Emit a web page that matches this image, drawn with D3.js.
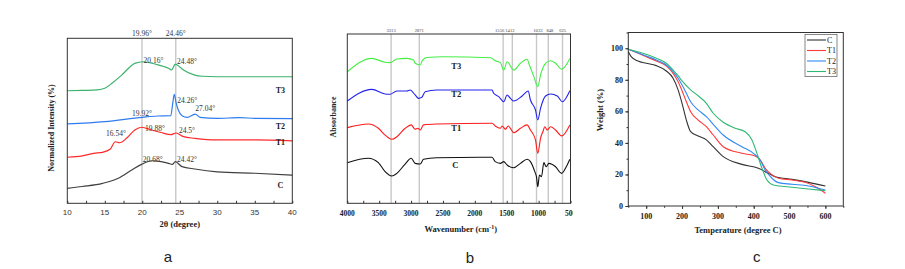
<!DOCTYPE html>
<html>
<head>
<meta charset="utf-8">
<script src="https://cdn.jsdelivr.net/npm/d3@7"></script>
<style>
  body { margin: 0; background: #fff; }
  svg { display: block; }
</style>
</head>
<body>
<svg width="905" height="269"></svg>
<script>
// ---- panel a : XRD ----
const xrdTicks = [10, 15, 20, 25, 30, 35, 40];
const xrdRefLines = [[19.96, "19.96°"], [24.46, "24.46°"]];
const xrdC = [[10, 9.1], [12, 10.2], [14.7, 12.1], [16.8, 15.2], [18.6, 20.2], [19.9, 23.6], [21.25, 25.8], [22.5, 25.3], [23.5, 24.2], [24, 23.6], [24.4, 25.2], [25.3, 22.2], [27, 20.8], [30, 19.1], [35, 18.2], [40, 17.1]];
const xrdT1 = [[10, 27.9], [12, 28.7], [13.5, 30.3], [14.7, 30.9], [15.7, 32.7], [16.4, 37.3], [17, 36.7], [17.9, 39.4], [19, 44.4], [19.9, 46.1], [21.25, 44.4], [22.5, 42.9], [23.8, 41.6], [24.5, 42.6], [25.5, 40.4], [27, 39.4], [30, 38.4], [35, 38.4], [40, 37.8]];
const xrdT2 = [[10, 48.1], [15, 49.5], [20, 52.1], [22, 52.9], [23.8, 53.1], [24.05, 60.2], [24.26, 66.1], [24.5, 61], [24.8, 56.5], [25.3, 53.1], [26, 52.1], [27.04, 54.1], [27.7, 52.1], [30, 51.5], [33, 51.9], [35, 51.5], [40, 51.3]];
const xrdT3 = [[10, 68.2], [12, 68.4], [14, 68.7], [15, 69.7], [16, 72.9], [17.25, 77.7], [19, 84.8], [20.1, 85.8], [21.7, 84.4], [23.5, 81.8], [23.9, 80.8], [24.4, 84.4], [25, 82.6], [25.5, 80.8], [27, 77.7], [28, 77], [30, 76.7], [35, 76.7], [40, 76.7]];
const xrdPeaks = [["20.16°", 21.5, 85.0], ["24.48°", 25.96, 84.4], ["24.26°", 26.0, 61.0], ["27.04°", 28.4, 56.2],
  ["19.92°", 19.96, 53.2], ["16.54°", 16.5, 40.5], ["19.88°", 21.7, 44.1], ["24.5°", 25.96, 42.9],
  ["20.68°", 21.4, 25.0], ["24.42°", 25.96, 25.0]];
const xrdNames = [["T3", 66.8], ["T2", 45.3], ["T1", 35.6], ["C", 9.0]];

// ---- panel b : FTIR ----
const ftirTicks = [4000, 3500, 3000, 2500, 2000, 1500, 1000, 500];
const ftirBands = [3313, 2871, 1556, 1412, 1033, 848, 625];
// where each band label sits along the wavenumber axis
const ftirBandLabelAt = [3313, 2871, 1611, 1450, 1011, 823, 624];
const ftirC = [[4000, 24.0], [3669, 26.6], [3513, 24.0], [3407, 18.7], [3302, 16.1], [3223, 17.7], [3093, 23.2], [2998, 26.6], [2936, 23.6], [2857, 23.2], [2805, 26.0], [2600, 26.9], [1730, 27.2], [1681, 24.6], [1599, 23.6], [1547, 24.6], [1494, 22.6], [1390, 21.0], [1285, 23.6], [1180, 26.0], [1128, 24.6], [1060, 18.7], [1034, 15.7], [1013, 9.8], [987, 16.7], [955, 15.7], [918, 24.0], [881, 21.6], [839, 23.6], [734, 21.6], [640, 17.7], [566, 21.6], [510, 26.0]];
const ftirT1 = [[4000, 44.7], [3669, 46.8], [3513, 44.3], [3407, 40.3], [3302, 37.8], [3223, 39.3], [3093, 44.3], [2998, 46.3], [2936, 43.7], [2893, 44.3], [2857, 43.3], [2805, 46.3], [2600, 46.8], [1730, 47.3], [1681, 45.7], [1599, 44.3], [1573, 45.7], [1520, 43.7], [1478, 45.7], [1390, 41.7], [1285, 44.3], [1180, 46.3], [1128, 43.3], [1049, 37.4], [1013, 29.5], [970, 38.4], [933, 42.3], [902, 45.2], [865, 43.3], [813, 45.2], [734, 43.3], [640, 39.8], [510, 46.3]];
const ftirT2 = [[4000, 60.4], [3616, 67.3], [3407, 64.6], [3330, 64.4], [3223, 66.3], [3066, 66.3], [3014, 66.9], [2936, 64.0], [2883, 62.0], [2831, 62.6], [2779, 65.9], [2600, 66.9], [1730, 66.9], [1705, 65.0], [1625, 63.0], [1547, 60.0], [1494, 64.0], [1442, 62.0], [1390, 60.4], [1259, 63.4], [1164, 66.3], [1128, 61.0], [1049, 55.1], [1013, 49.2], [970, 56.1], [891, 63.4], [813, 64.6], [707, 63.4], [629, 60.0], [510, 66.5]];
const ftirT3 = [[4000, 77.7], [3616, 85.6], [3407, 83.3], [3330, 83.1], [3223, 85.2], [3066, 85.6], [2962, 84.6], [2936, 82.7], [2857, 81.7], [2820, 84.6], [2750, 86.1], [2500, 86.6], [1750, 86.0], [1681, 84.2], [1599, 83.1], [1547, 78.7], [1494, 83.6], [1390, 78.7], [1285, 82.7], [1180, 85.1], [1145, 81.7], [1075, 74.8], [1013, 68.9], [970, 75.8], [891, 82.7], [813, 84.2], [734, 82.7], [640, 79.2], [510, 85.6]];
const ftirNames = [["T3", 2291, 79.6], ["T2", 2291, 62.8], ["T1", 2291, 43.0], ["C", 2307, 20.9]];

// ---- panel c : TGA ----
const tgaXTicks = [100, 200, 300, 400, 500, 600];
const tgaYTicks = [0, 20, 40, 60, 80, 100];
const tgaC = [[50, 97.8], [58, 94.7], [77, 91.9], [100, 90.5], [128, 89.0], [156, 85.6], [175, 81.0], [189, 73.6], [200, 65.1], [212, 54.5], [224, 47.1], [245, 44.4], [268, 41.9], [287, 37.6], [315, 31.3], [367, 26.4], [413, 23.9], [441, 20.7], [460, 18.6], [507, 16.9], [553, 15.0], [600, 12.7]];
const tgaT1 = [[50, 99.4], [100, 94.7], [128, 91.9], [156, 88.8], [175, 84.1], [189, 78.8], [200, 73.1], [212, 66.1], [224, 59.8], [245, 54.5], [268, 50.3], [287, 45.0], [315, 37.6], [367, 33.4], [404, 31.7], [418, 29.2], [432, 23.9], [451, 19.7], [469, 17.6], [507, 16.5], [544, 15.0], [572, 12.2], [600, 8.1]];
const tgaT2 = [[50, 99.4], [100, 95.1], [128, 92.6], [156, 89.4], [175, 85.2], [189, 81.0], [200, 76.7], [212, 71.5], [224, 66.1], [245, 60.9], [268, 56.6], [287, 51.8], [315, 45.0], [367, 37.6], [399, 33.4], [418, 29.2], [432, 22.8], [451, 17.6], [469, 14.8], [507, 13.8], [553, 12.7], [600, 10.1]];
const tgaT3 = [[50, 99.4], [100, 96.2], [128, 93.7], [156, 90.5], [175, 86.2], [189, 82.6], [200, 79.3], [224, 73.6], [245, 69.9], [268, 65.1], [287, 58.8], [315, 53.1], [348, 49.3], [376, 47.1], [395, 41.9], [409, 33.4], [423, 23.9], [437, 16.5], [455, 13.3], [507, 11.9], [553, 10.8], [600, 9.7]];
const tgaNames = ["C", "T1", "T2", "T3"];

const svg = d3.select("svg");
const serif = "'Liberation Serif', 'Times New Roman', serif";
const sans = "'Liberation Sans', Arial, sans-serif";
const frameColor = "#333";

function frame(g, x, y) {
  g.append("rect")
    .attr("x", x.range()[0]).attr("y", y.range()[1])
    .attr("width", x.range()[1] - x.range()[0])
    .attr("height", y.range()[0] - y.range()[1])
    .attr("fill", "none").attr("stroke", frameColor).attr("stroke-width", 1);
}

function drawLine(g, data, x, y, color, w) {
  const line = d3.line().x(d => x(d[0])).y(d => y(d[1])).curve(d3.curveMonotoneX);
  g.append("path").datum(data)
    .attr("d", line).attr("fill", "none")
    .attr("stroke", color).attr("stroke-width", w || 1.1)
    .attr("stroke-linejoin", "round");
}

// ================= a =================
{
  const x = d3.scaleLinear().domain([10, 40]).range([67.3, 292.3]);
  const y = d3.scaleLinear().domain([0, 100]).range([203.3, 38.3]);
  const g = svg.append("g");

  g.selectAll("line.ref").data(xrdRefLines).join("line")
    .attr("x1", d => x(d[0])).attr("x2", d => x(d[0]))
    .attr("y1", y(0)).attr("y2", y(100))
    .attr("stroke", "#c8c8c8").attr("stroke-width", 1.4);
  g.selectAll("text.ref").data(xrdRefLines).join("text")
    .attr("x", d => x(d[0])).attr("y", 35.5)
    .attr("text-anchor", "middle").attr("font-family", serif).attr("font-size", 7.5)
    .attr("fill", "#333").text(d => d[1]);

  const xAxis = d3.axisBottom(x).tickValues(d3.range(10, 40.1, 2.5)).tickSize(-2.5).tickFormat("");
  g.append("g").attr("transform", `translate(0,${y(0)})`).call(xAxis)
    .call(s => s.select(".domain").remove())
    .call(s => s.selectAll("line").attr("stroke", frameColor));
  g.selectAll("text.tick").data(xrdTicks).join("text")
    .attr("x", d => x(d)).attr("y", 214.5).attr("text-anchor", "middle")
    .attr("font-family", sans).attr("font-size", 8).attr("fill", "#333").text(d => d);

  drawLine(g, xrdC, x, y, "#404040", 1.2);
  drawLine(g, xrdT1, x, y, "#ff2a2a", 1.2);
  drawLine(g, xrdT2, x, y, "#2f7cf0", 1.2);
  drawLine(g, xrdT3, x, y, "#3cb36c", 1.2);
  frame(g, x, y);

  g.selectAll("text.peak").data(xrdPeaks).join("text")
    .attr("x", d => x(d[1])).attr("y", d => y(d[2])).attr("text-anchor", "middle")
    .attr("font-family", serif).attr("font-size", 7.5).attr("fill", "#333").text(d => d[0]);
  g.selectAll("text.name").data(xrdNames).join("text")
    .attr("x", x(38.4)).attr("y", d => y(d[1])).attr("text-anchor", "middle")
    .attr("font-family", serif).attr("font-size", 8).attr("font-weight", "bold")
    .attr("fill", "#222").text(d => d[0]);

  g.append("text").attr("x", (x.range()[0] + x.range()[1]) / 2).attr("y", 227)
    .attr("text-anchor", "middle").attr("font-family", serif).attr("font-size", 8.5)
    .attr("font-weight", "bold").attr("fill", "#222").text("2θ (degree)");
  g.append("text").attr("transform", "translate(54,128) rotate(-90)")
    .attr("text-anchor", "middle").attr("font-family", serif).attr("font-size", 8)
    .attr("font-weight", "bold").attr("fill", "#222").text("Normalized Intensity (%)");
  g.append("text").attr("x", 168).attr("y", 262).attr("text-anchor", "middle")
    .attr("font-family", sans).attr("font-size", 15).attr("fill", "#222").text("a");
}

// ================= b =================
{
  const x = d3.scaleLinear().domain([4000, 500]).range([347.3, 570.5]);
  const y = d3.scaleLinear().domain([0, 100]).range([203.3, 34]);
  const clip = svg.append("defs").append("clipPath").attr("id", "clipb");
  clip.append("rect").attr("x", 300).attr("y", 0).attr("width", 273).attr("height", 269);
  const g = svg.append("g").attr("clip-path", "url(#clipb)");

  g.selectAll("line.band").data(ftirBands).join("line")
    .attr("x1", d => x(d)).attr("x2", d => x(d))
    .attr("y1", y(0)).attr("y2", y(100))
    .attr("stroke", "#c8c8c8").attr("stroke-width", 1.4);
  g.selectAll("text.band").data(ftirBands).join("text")
    .attr("x", (d, i) => x(ftirBandLabelAt[i])).attr("y", 31.5).attr("text-anchor", "middle")
    .attr("font-family", serif).attr("font-size", 4.6).attr("fill", "#444").text(d => d);

  const xAxis = d3.axisBottom(x).tickValues(d3.range(4000, 499, -250)).tickSize(-2.5).tickFormat("");
  g.append("g").attr("transform", `translate(0,${y(0)})`).call(xAxis)
    .call(s => s.select(".domain").remove())
    .call(s => s.selectAll("line").attr("stroke", frameColor));
  g.selectAll("text.tick").data(ftirTicks).join("text")
    .attr("x", d => x(d)).attr("y", 215.5).attr("text-anchor", "middle")
    .attr("font-family", serif).attr("font-size", 7.5).attr("font-weight", "bold")
    .attr("fill", "#222").text(d => d);

  drawLine(g, ftirC, x, y, "#111", 1.1);
  drawLine(g, ftirT1, x, y, "#ff1a1a", 1.1);
  drawLine(g, ftirT2, x, y, "#2222ee", 1.1);
  drawLine(g, ftirT3, x, y, "#44ee44", 1.1);
  frame(g, x, y);

  g.selectAll("text.name").data(ftirNames).join("text")
    .attr("x", d => x(d[1])).attr("y", d => y(d[2])).attr("text-anchor", "middle")
    .attr("font-family", serif).attr("font-size", 8.5).attr("font-weight", "bold")
    .attr("fill", "#222").text(d => d[0]);

  const t = g.append("text").attr("x", 460.7).attr("y", 232).attr("text-anchor", "middle")
    .attr("font-family", serif).attr("font-size", 8.5).attr("font-weight", "bold").attr("fill", "#222");
  t.append("tspan").text("Wavenumber (cm");
  t.append("tspan").attr("dy", -3).attr("font-size", 6).text("-1");
  t.append("tspan").attr("dy", 3).text(")");
  g.append("text").attr("transform", "translate(336,117) rotate(-90)")
    .attr("text-anchor", "middle").attr("font-family", serif).attr("font-size", 8)
    .attr("font-weight", "bold").attr("fill", "#222").text("Absorbance");
  g.append("text").attr("x", 470).attr("y", 263).attr("text-anchor", "middle")
    .attr("font-family", sans).attr("font-size", 15).attr("fill", "#222").text("b");
}

// ================= c =================
{
  const x = d3.scaleLinear().domain([50, 650]).range([628.3, 843.3]);
  const y = d3.scaleLinear().domain([0, 110]).range([206, 32.5]);
  const g = svg.append("g");
  const colors = ["#333333", "#ff3b3b", "#2f8af5", "#2fb874"];

  const xMinor = d3.axisBottom(x).tickValues(d3.range(50, 651, 50)).tickSize(1.8).tickFormat("");
  const xMajor = d3.axisBottom(x).tickValues(tgaXTicks).tickSize(3).tickFormat("");
  const yMinor = d3.axisLeft(y).tickValues(d3.range(0, 111, 10)).tickSize(1.8).tickFormat("");
  const yMajor = d3.axisLeft(y).tickValues(tgaYTicks).tickSize(3).tickFormat("");
  [xMinor, xMajor].forEach(a => g.append("g").attr("transform", `translate(0,${y(0)})`).call(a)
    .call(s => s.select(".domain").remove()).call(s => s.selectAll("line").attr("stroke", frameColor)));
  [yMinor, yMajor].forEach(a => g.append("g").attr("transform", `translate(${x(50)},0)`).call(a)
    .call(s => s.select(".domain").remove()).call(s => s.selectAll("line").attr("stroke", frameColor)));

  g.selectAll("text.xt").data(tgaXTicks).join("text")
    .attr("x", d => x(d)).attr("y", 219).attr("text-anchor", "middle")
    .attr("font-family", serif).attr("font-size", 8).attr("font-weight", "bold")
    .attr("fill", "#222").text(d => d);
  g.selectAll("text.yt").data(tgaYTicks).join("text")
    .attr("x", 623).attr("y", d => y(d) + 2.8).attr("text-anchor", "end")
    .attr("font-family", serif).attr("font-size", 8).attr("font-weight", "bold")
    .attr("fill", "#222").text(d => d);

  [tgaC, tgaT1, tgaT2, tgaT3].forEach((s, i) => drawLine(g, s, x, y, colors[i], 1.1));
  frame(g, x, y);

  // legend
  g.append("rect").attr("x", 805).attr("y", 34.5).attr("width", 32).attr("height", 42)
    .attr("fill", "#fff").attr("stroke", "#555").attr("stroke-width", 0.7);
  const li = g.selectAll("g.leg").data(tgaNames).join("g")
    .attr("transform", (d, i) => `translate(806,${40 + i * 10.5})`);
  li.append("line").attr("x1", 1).attr("x2", 20).attr("stroke", (d, i) => colors[i]).attr("stroke-width", 1.1);
  li.append("text").attr("x", 21).attr("y", 2.8).attr("font-family", serif).attr("font-size", 8)
    .attr("fill", "#222").text(d => d);

  g.append("text").attr("x", 738).attr("y", 233).attr("text-anchor", "middle")
    .attr("font-family", serif).attr("font-size", 8.5).attr("font-weight", "bold")
    .attr("fill", "#222").text("Temperature (degree C)");
  g.append("text").attr("transform", "translate(603,110) rotate(-90)")
    .attr("text-anchor", "middle").attr("font-family", serif).attr("font-size", 8.5)
    .attr("font-weight", "bold").attr("fill", "#222").text("Weight (%)");
  g.append("text").attr("x", 756.7).attr("y", 262).attr("text-anchor", "middle")
    .attr("font-family", sans).attr("font-size", 15).attr("fill", "#222").text("c");
}
</script>
</body>
</html>
